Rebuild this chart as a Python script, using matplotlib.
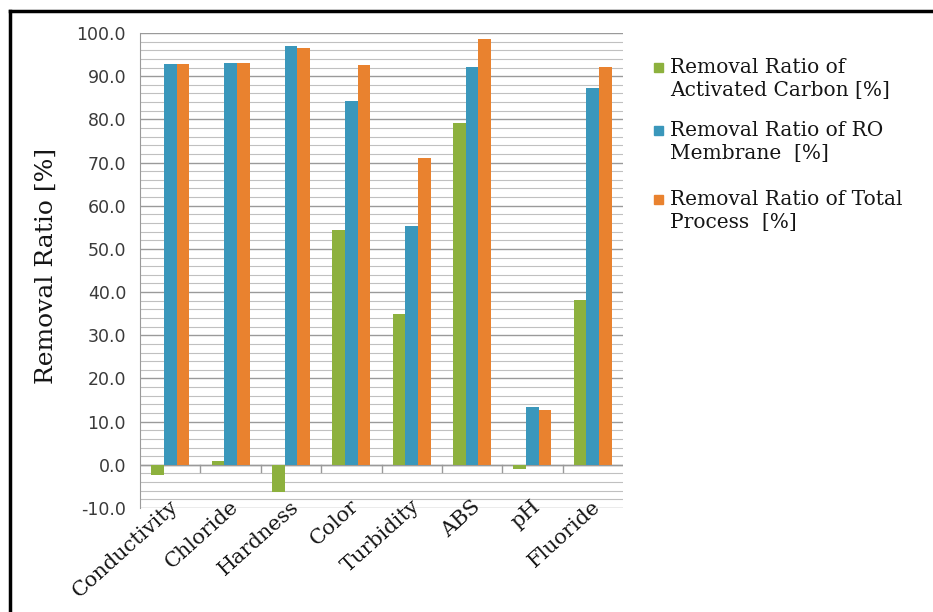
import matplotlib.pyplot as plt
from matplotlib.patches import Rectangle
import numpy as np

categories = ['Conductivity', 'Chloride', 'Hardness', 'Color', 'Turbidity', 'ABS', 'pH', 'Fluoride']
carbon = [-2.4, 1.0, -6.4, 54.4, 35.0, 79.1, -1.0, 38.2]
ro_membrane = [92.8, 93.0, 97.0, 84.2, 55.3, 92.1, 13.5, 87.3]
total = [92.8, 93.0, 96.6, 92.7, 71.0, 98.5, 12.7, 92.2]
series_names = ['Removal Ratio of\nActivated Carbon [%]',
                'Removal Ratio of RO\nMembrane  [%]',
                'Removal Ratio of Total\nProcess  [%]']
colors = ['#8db13e', '#3a97bb', '#e9822f']

serif = 'DejaVu Serif'
sans = 'DejaVu Sans'

W, H = 933, 612
fig = plt.figure(figsize=(W / 100, H / 100), dpi=100)
ax = fig.add_axes([140/W, 1 - 508/H, 483/W, 475/H])

x = np.arange(len(categories))
w = 0.21
for i, (vals, name, c) in enumerate(zip([carbon, ro_membrane, total], series_names, colors)):
    ax.bar(x + (i - 1) * w, vals, w, color=c, label=name, zorder=3)

ax.set_xlim(-0.5, len(categories) - 0.5)
ax.set_ylim(-10, 100)
yt = np.arange(-10, 101, 10)
ax.set_yticks(yt)
ax.set_yticklabels([f'{v:.1f}' for v in yt], fontfamily=sans, fontsize=12.5, color='#3a3a3a')
ax.set_yticks(np.arange(-10, 101, 2), minor=True)
ax.grid(axis='y', which='major', color='#9a9a9a', lw=1.0, zorder=0)
ax.grid(axis='y', which='minor', color='#c0c0c0', lw=0.8, zorder=0)
ax.tick_params(axis='y', which='both', length=0, pad=10)

# category axis sits on the zero line
ax.set_xticks([])
ax.axhline(0, color='#9a9a9a', lw=1.0, zorder=2)
for b in np.arange(0.5, len(categories) - 0.5, 1):
    ax.plot([b, b], [0, -1.6], color='#9a9a9a', lw=1.0, zorder=2)
for xi, cat in zip(x, categories):
    ax.text(xi - 0.02, -7.4, cat, rotation=42, rotation_mode='anchor', ha='right', va='top',
            fontfamily=serif, fontsize=15, color='#151515')

for s in ['top', 'right', 'bottom']:
    ax.spines[s].set_visible(False)
ax.spines['left'].set_color('#9a9a9a')

fig.text(46/W, 1 - 266/H, 'Removal Ratio [%]', rotation=90, ha='center', va='center',
         fontfamily=serif, fontsize=18, color='#151515')

# legend: marker aligned with the first line of each entry
legend_tops = [58, 121, 190]
for name, c, top in zip(series_names, colors, legend_tops):
    fig.add_artist(Rectangle((654/W, 1 - (top + 14)/H), 9/W, 9/H, color=c,
                             transform=fig.transFigure))
    fig.text(670/W, 1 - top/H, name, ha='left', va='top', fontfamily=serif,
             fontsize=14.5, color='#151515', linespacing=1.25)

# outer frame (left and top edges visible)
fig.add_artist(plt.Line2D([10/W, 10/W], [0, 1 - 11/H], color='black', lw=2.5))
fig.add_artist(plt.Line2D([10/W, 1], [1 - 11/H, 1 - 11/H], color='black', lw=2.5))

fig.savefig('out.png', dpi=100)
